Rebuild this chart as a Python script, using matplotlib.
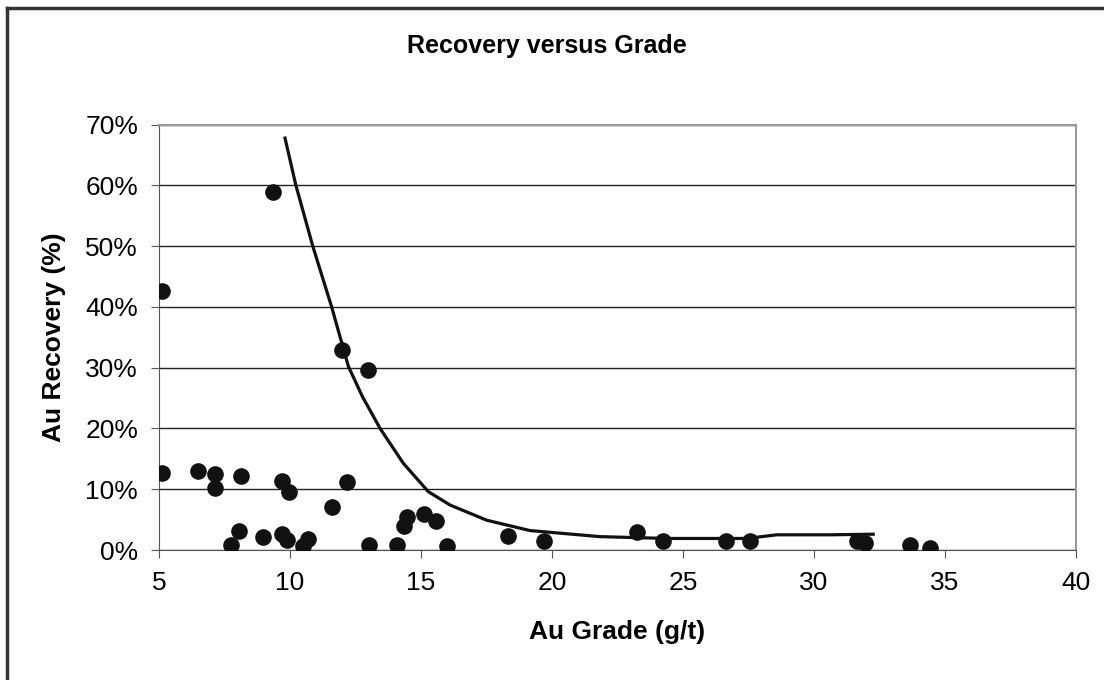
import matplotlib.pyplot as plt
from matplotlib.ticker import FuncFormatter
from matplotlib.lines import Line2D

plt.rcParams['font.family'] = ['Liberation Sans', 'DejaVu Sans']

# measured points: Au grade (g/t) vs recovery (%)
grade = [9.36, 5.11, 5.11, 6.49, 7.15, 7.15, 8.13, 9.69, 9.95, 11.98, 12.96,
         12.19, 11.59, 8.07, 7.74, 8.98, 9.69, 9.90, 10.48, 10.70, 13.03,
         14.07, 14.34, 14.48, 15.11, 15.56, 15.98, 18.33, 19.71, 23.24,
         24.22, 26.65, 27.56, 31.63, 31.95, 33.66, 34.43]
recovery = [59.0, 42.6, 12.7, 13.0, 12.5, 10.2, 12.2, 11.4, 9.5, 33.0, 29.7,
            11.2, 7.0, 3.1, 0.8, 2.2, 2.6, 1.6, 0.7, 1.8, 0.8,
            0.8, 4.0, 5.4, 6.0, 4.8, 0.7, 2.3, 1.5, 2.9,
            1.5, 1.4, 1.4, 1.4, 1.1, 0.8, 0.3]

# trend line
trend_x = [9.81, 10.22, 10.87, 11.59, 12.23, 12.77, 13.44, 14.32, 15.28,
           16.11, 17.51, 19.16, 21.83, 24.38, 27.43, 28.58, 30.61, 32.26]
trend_y = [67.8, 60.1, 50.0, 40.0, 30.2, 25.2, 20.0, 14.3, 9.6,
           7.4, 4.9, 3.2, 2.2, 1.9, 1.9, 2.5, 2.5, 2.6]

fig = plt.figure(figsize=(11.04, 6.8), dpi=100)
ax = fig.add_axes([159 / 1104, 1 - 550 / 680, (1076 - 159) / 1104, (550 - 124.7) / 680])

ax.scatter(grade, recovery, s=120, color='#111111', zorder=3)
ax.plot(trend_x, trend_y, color='#111111', linewidth=2.3, zorder=4)

ax.set_xlim(5, 40)
ax.set_ylim(0, 70)
ax.set_xticks(range(5, 41, 5))
ax.set_yticks(range(0, 71, 10))
ax.yaxis.set_major_formatter(FuncFormatter(lambda v, p: '%d%%' % v))
ax.grid(axis='y', color='#222222', linewidth=1)
ax.set_axisbelow(True)
ax.tick_params(labelsize=19, length=6, color='#555555', pad=9)

for s in ['top', 'right']:
    ax.spines[s].set_color('#999999')
    ax.spines[s].set_linewidth(1.5)
for s in ['left', 'bottom']:
    ax.spines[s].set_color('#555555')

ax.set_xlabel('Au Grade (g/t)', fontsize=19, fontweight='bold', labelpad=18)
ax.set_ylabel('Au Recovery (%)', fontsize=19, fontweight='bold', labelpad=14)
fig.text(0.495, 1 - 46 / 680, 'Recovery versus Grade', ha='center', va='center',
         fontsize=18, fontweight='bold')

# chart border (left and top visible)
fig.add_artist(Line2D([7 / 1104, 7 / 1104], [0, 1 - 8 / 680], color='#333333', linewidth=2.5,
                      transform=fig.transFigure))
fig.add_artist(Line2D([7 / 1104, 1], [1 - 8 / 680, 1 - 8 / 680], color='#333333', linewidth=2.5,
                      transform=fig.transFigure))

fig.savefig('out.png', dpi=100)
